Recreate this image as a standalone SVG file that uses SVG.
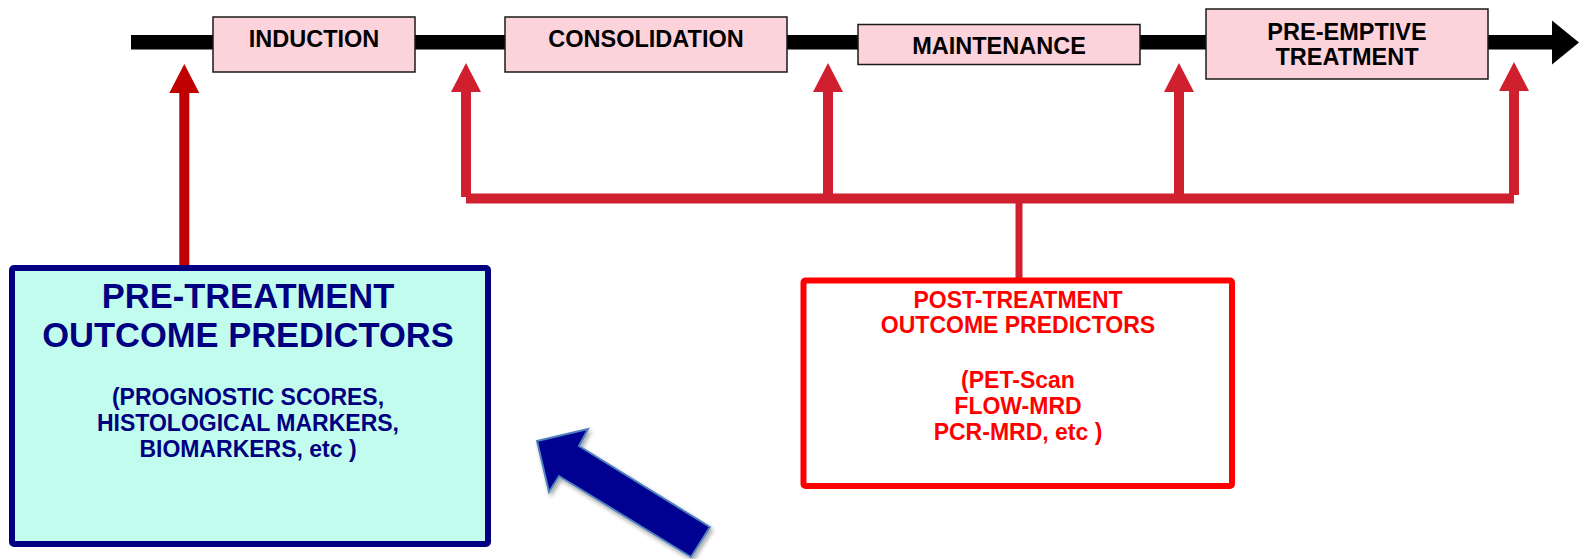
<svg xmlns="http://www.w3.org/2000/svg" width="1579" height="559" viewBox="0 0 1579 559">
<defs>
<style>
text{font-family:"Liberation Sans",Arial,sans-serif;font-weight:bold;text-anchor:middle}
.step rect{fill:#FCD3DA;stroke:#1a1a1a;stroke-width:1.5}
.step text{fill:#000;font-size:23.5px}
.pre text{fill:#000080}
.post text{fill:#FF0000;font-size:23px}
.red{fill:#D0202F}
.dred{fill:#C00000}
</style>
<filter id="sh" x="-20%" y="-20%" width="150%" height="150%">
<feDropShadow dx="2" dy="3" stdDeviation="2" flood-color="#000" flood-opacity="0.35"/>
</filter>
</defs>
<rect width="1579" height="559" fill="#fff"/>

<g id="timeline">
<rect x="131" y="35" width="1423" height="14.5" fill="#000"/>
<polygon points="1552,20.5 1579,42.5 1552,64.5" fill="#000"/>
</g>

<g id="induction" class="step">
<rect x="213" y="17" width="202" height="55"/>
<text x="314" y="47">INDUCTION</text>
</g>
<g id="consolidation" class="step">
<rect x="505" y="17" width="282" height="55"/>
<text x="646" y="47">CONSOLIDATION</text>
</g>
<g id="maintenance" class="step">
<rect x="858" y="24.5" width="282" height="40"/>
<text x="999" y="54">MAINTENANCE</text>
</g>
<g id="preemptive" class="step">
<rect x="1206" y="9" width="282" height="70"/>
<text x="1347" y="40">PRE-EMPTIVE</text>
<text x="1347" y="65">TREATMENT</text>
</g>

<g id="connectors">
<!-- pre-treatment arrow -->
<rect class="dred" x="179.3" y="91" width="10" height="175"/>
<polygon class="dred" points="184.3,64 199.3,93 169.3,93"/>
<!-- post-treatment branch -->
<rect class="red" x="466" y="193.5" width="1048" height="10"/>
<rect class="red" x="1015.5" y="203" width="7" height="75"/>
<rect class="red" x="461" y="90" width="10" height="107"/>
<polygon class="red" points="466,63 481,92 451,92"/>
<rect class="red" x="823" y="90" width="10" height="105"/>
<polygon class="red" points="828,63 843,92 813,92"/>
<rect class="red" x="1174" y="90" width="10" height="105"/>
<polygon class="red" points="1179,63 1194,92 1164,92"/>
<rect class="red" x="1509" y="90" width="10" height="105"/>
<polygon class="red" points="1514,62 1529,91 1499,91"/>
</g>

<g id="pre-predictors" class="pre">
<rect x="12" y="268" width="476" height="276" rx="2" fill="#C2FCEF" stroke="#000080" stroke-width="6"/>
<text x="248" y="308" font-size="34.5">PRE-TREATMENT</text>
<text x="248" y="347" font-size="34.5">OUTCOME PREDICTORS</text>
<text x="248" y="405" font-size="23">(PROGNOSTIC SCORES,</text>
<text x="248" y="431" font-size="23">HISTOLOGICAL MARKERS,</text>
<text x="248" y="457" font-size="23">BIOMARKERS, etc )</text>
</g>

<g id="post-predictors" class="post">
<rect x="803.5" y="280.5" width="428.5" height="205.5" rx="2" fill="#fff" stroke="#FF0000" stroke-width="6"/>
<text x="1018" y="308">POST-TREATMENT</text>
<text x="1018" y="333">OUTCOME PREDICTORS</text>
<text x="1018" y="388">(PET-Scan</text>
<text x="1018" y="414">FLOW-MRD</text>
<text x="1018" y="440">PCR-MRD, etc )</text>
</g>

<g id="pointer-arrow">
<polygon points="537,441 588,429 579,446 710,527 691,557 559,476 549,492" fill="#000091" stroke="#4F81BD" stroke-width="2" stroke-linejoin="miter" filter="url(#sh)"/>
</g>
</svg>
